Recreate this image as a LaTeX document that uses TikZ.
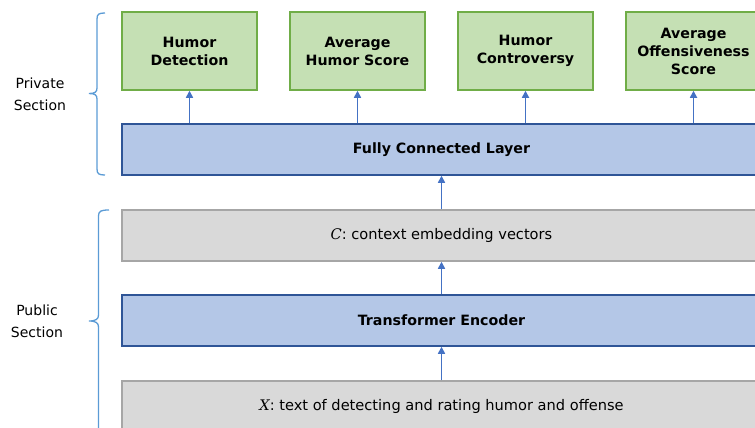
\documentclass[tikz,border=0pt]{standalone}
\usepackage{fontspec}
\setmainfont{DejaVu Sans}
\newfontfamily\mathitfont{DejaVu Serif}
\usetikzlibrary{arrows.meta}
\definecolor{gfill}{HTML}{C5E0B4}
\definecolor{gdraw}{HTML}{70AD47}
\definecolor{bfill}{HTML}{B4C7E7}
\definecolor{bdraw}{HTML}{2F5597}
\definecolor{kfill}{HTML}{D9D9D9}
\definecolor{kdraw}{HTML}{A6A6A6}
\definecolor{arr}{HTML}{4472C4}
\definecolor{brc}{HTML}{5B9BD5}
\newcommand{\varit}[1]{{\mathitfont\itshape #1}}
\tikzset{
  greenbox/.style={draw=gdraw,fill=gfill,line width=1.5pt,minimum width=135pt,minimum height=78pt,inner sep=0pt,align=center,font=\fontsize{14.2}{18}\selectfont\bfseries},
  bluebox/.style={draw=bdraw,fill=bfill,line width=1.5pt,minimum width=639pt,minimum height=51pt,inner sep=0pt,align=center,font=\fontsize{14.2}{18}\selectfont\bfseries},
  graybox/.style={draw=kdraw,fill=kfill,line width=1.5pt,minimum width=639pt,minimum height=51pt,inner sep=0pt,align=center,font=\fontsize{14.6}{18}\selectfont},
  uparrow/.style={draw=arr,line width=1.6pt,-{Triangle[width=7pt,length=7pt]}},
  bracepath/.style={draw=brc,line width=1.3pt},
  sidelabel/.style={align=center,font=\fontsize{14}{22}\selectfont}
}
\begin{document}
\begin{tikzpicture}[x=1pt,y=-1pt]
\useasboundingbox (0,0) rectangle (755,428);
% green output boxes
\node[greenbox] (g1) at (189.5,51) {Humor\\Detection};
\node[greenbox] (g2) at (357.5,51) {Average\\Humor Score};
\node[greenbox] (g3) at (525.5,51) {Humor\\Controversy};
\node[greenbox] (g4) at (693.5,51) {Average\\Offensiveness\\Score};
% layers
\node[bluebox] (fc) at (441.5,149.5) {Fully Connected Layer};
\node[graybox] (ctx) at (441.5,235.5) {\varit{C}: context embedding vectors};
\node[bluebox] (enc) at (441.5,320.5) {Transformer Encoder};
\node[graybox] (inp) at (441.5,406.5) {\varit{X}: text of detecting and rating humor and offense};
% arrows
\foreach \g in {g1,g2,g3,g4} {
  \draw[uparrow] (fc.north -| \g.south) -- (\g.south);
}
\draw[uparrow] (ctx.north) -- (fc.south);
\draw[uparrow] (enc.north) -- (ctx.south);
\draw[uparrow] (inp.north) -- (enc.south);
% braces
\coordinate (pt1) at (105,13);
\coordinate (pb1) at (105,175);
\draw[bracepath] (pt1) .. controls (99,13) and (97,14) .. (97,19) -- (97,88)
  .. controls (97,92) and (95,93.5) .. (89,93.5)
  .. controls (95,93.5) and (97,95) .. (97,99) -- (97,169)
  .. controls (97,174) and (99,175) .. (pb1);
\coordinate (pt2) at (109,210);
\draw[bracepath] (pt2) .. controls (101,210) and (98.5,211) .. (98.5,216) -- (98.5,315)
  .. controls (98.5,319) and (96,321) .. (89,321)
  .. controls (96,321) and (98.5,323) .. (98.5,327) -- (98.5,440);
% side labels
\node[sidelabel] (lpriv) at (40,94) {Private\\Section};
\node[sidelabel] (lpub) at (37,321) {Public\\Section};
\end{tikzpicture}
\end{document}
